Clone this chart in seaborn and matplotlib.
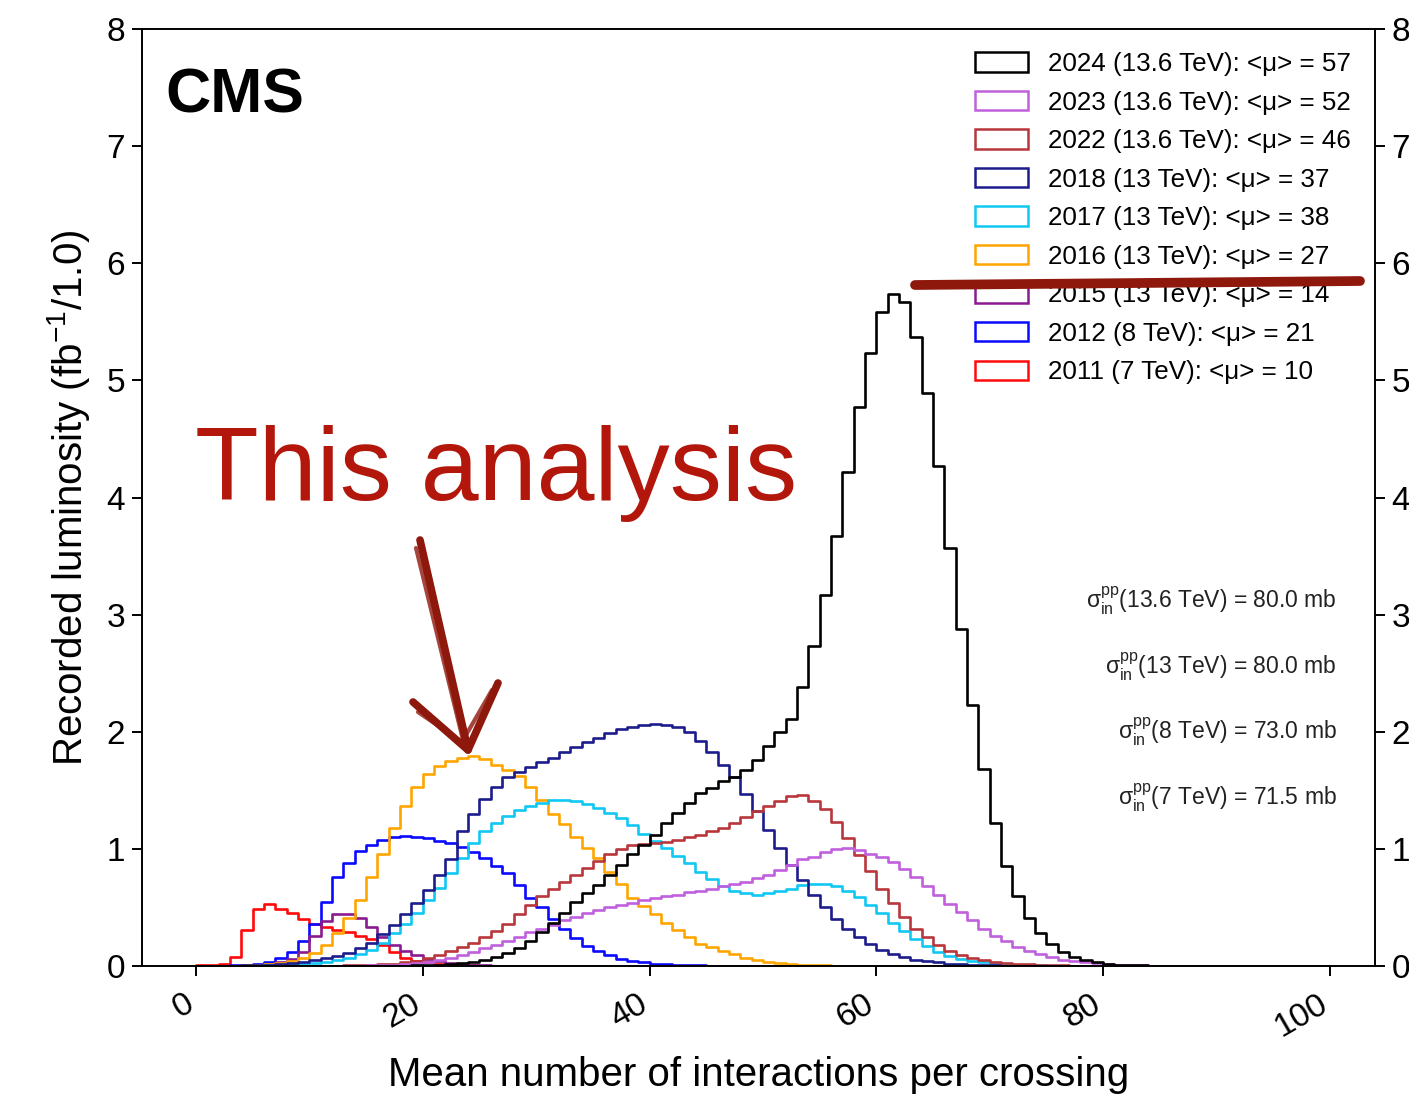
import numpy as np
import pandas as pd
import matplotlib
matplotlib.use("Agg")
import matplotlib.pyplot as plt
import matplotlib.transforms as mtransforms
from matplotlib.patches import Rectangle
from matplotlib.lines import Line2D
import seaborn as sns

# pileup histograms, bin width 1, values in fb^-1 per bin
edges = np.arange(0, 101)

labels = [
    "2024 (13.6 TeV): <μ> = 57",
    "2023 (13.6 TeV): <μ> = 52",
    "2022 (13.6 TeV): <μ> = 46",
    "2018 (13 TeV): <μ> = 37",
    "2017 (13 TeV): <μ> = 38",
    "2016 (13 TeV): <μ> = 27",
    "2015 (13 TeV): <μ> = 14",
    "2012 (8 TeV): <μ> = 21",
    "2011 (7 TeV): <μ> = 10",
]
colors = ["#000000", "#c060dc", "#b8363c", "#1c1c8c", "#10c8f2",
          "#ffa500", "#8a1a90", "#0a0aff", "#ff0a0a"]

# first bin index of each list below
start_bin = [18, 14, 12, 3, 5, 3, 4, 3, 0]

lumi_2024 = [0.003, 0.005, 0.008, 0.012, 0.018, 0.025, 0.035, 0.05, 0.08, 0.11,
             0.15, 0.21, 0.29, 0.37, 0.45, 0.55, 0.62, 0.69, 0.78, 0.86,
             0.96, 1.03, 1.12, 1.22, 1.31, 1.39, 1.48, 1.52, 1.58, 1.61,
             1.67, 1.76, 1.88, 2.0, 2.11, 2.38, 2.73, 3.17, 3.67, 4.22,
             4.77, 5.23, 5.58, 5.74, 5.67, 5.37, 4.89, 4.27, 3.57, 2.88,
             2.23, 1.68, 1.22, 0.85, 0.6, 0.41, 0.28, 0.19, 0.12, 0.08,
             0.05, 0.03, 0.02, 0.012, 0.008, 0.005]
lumi_2023 = [0.003, 0.005, 0.008, 0.012, 0.018, 0.025, 0.035, 0.05, 0.07, 0.09,
             0.12, 0.15, 0.18, 0.21, 0.25, 0.29, 0.32, 0.35, 0.39, 0.42,
             0.45, 0.48, 0.5, 0.52, 0.54, 0.56, 0.58, 0.6, 0.61, 0.63,
             0.64, 0.66, 0.68, 0.7, 0.72, 0.75, 0.78, 0.82, 0.86, 0.91,
             0.93, 0.97, 1.0, 1.01, 0.99, 0.96, 0.93, 0.89, 0.83, 0.76,
             0.68, 0.61, 0.53, 0.46, 0.39, 0.32, 0.26, 0.21, 0.165, 0.13,
             0.1, 0.075, 0.055, 0.04, 0.03, 0.022, 0.016, 0.012, 0.009, 0.006,
             0.004, 0.003]
lumi_2022 = [0.003, 0.005, 0.007, 0.01, 0.014, 0.02, 0.03, 0.045, 0.065, 0.095,
             0.13, 0.16, 0.2, 0.25, 0.3, 0.36, 0.44, 0.52, 0.6, 0.66,
             0.72, 0.78, 0.84, 0.9, 0.96, 1.0, 1.03, 1.04, 1.05, 1.06,
             1.08, 1.1, 1.12, 1.15, 1.18, 1.22, 1.27, 1.32, 1.37, 1.41,
             1.45, 1.46, 1.41, 1.34, 1.23, 1.09, 0.95, 0.81, 0.66, 0.54,
             0.42, 0.32, 0.25, 0.18, 0.13, 0.094, 0.066, 0.05, 0.037, 0.028,
             0.02, 0.015, 0.01, 0.007, 0.005, 0.003]
lumi_2018 = [0.003, 0.005, 0.008, 0.012, 0.018, 0.025, 0.035, 0.05, 0.065, 0.085,
             0.11, 0.15, 0.2, 0.27, 0.35, 0.44, 0.54, 0.65, 0.78, 0.91,
             1.15, 1.3, 1.43, 1.53, 1.61, 1.66, 1.7, 1.74, 1.78, 1.83,
             1.87, 1.91, 1.95, 1.99, 2.02, 2.04, 2.06, 2.07, 2.06, 2.04,
             2.0, 1.92, 1.83, 1.72, 1.61, 1.47, 1.32, 1.16, 1.01, 0.86,
             0.73, 0.61, 0.5, 0.4, 0.32, 0.25, 0.19, 0.14, 0.105, 0.075,
             0.055, 0.04, 0.03, 0.02, 0.015, 0.01, 0.007, 0.005, 0.003]
lumi_2017 = [0.003, 0.005, 0.008, 0.012, 0.018, 0.025, 0.035, 0.05, 0.07, 0.1,
             0.14, 0.2, 0.28, 0.36, 0.45, 0.56, 0.67, 0.79, 0.92, 1.05,
             1.15, 1.22, 1.28, 1.33, 1.37, 1.39, 1.42, 1.42, 1.41, 1.38,
             1.35, 1.31, 1.26, 1.2, 1.13, 1.07, 1.01, 0.94, 0.88, 0.8,
             0.74, 0.68, 0.64, 0.62, 0.61, 0.62, 0.64, 0.66, 0.69, 0.7,
             0.7, 0.68, 0.64, 0.59, 0.52, 0.45, 0.37, 0.3, 0.23, 0.17,
             0.12, 0.085, 0.06, 0.045, 0.035, 0.025, 0.018, 0.012, 0.008, 0.005,
             0.003]
lumi_2016 = [0.003, 0.006, 0.01, 0.015, 0.025, 0.04, 0.065, 0.11, 0.18, 0.28,
             0.41, 0.56, 0.76, 0.96, 1.18, 1.37, 1.53, 1.64, 1.71, 1.75,
             1.78, 1.79, 1.77, 1.72, 1.67, 1.62, 1.53, 1.42, 1.3, 1.21,
             1.1, 1.01, 0.92, 0.8, 0.7, 0.58, 0.51, 0.44, 0.37, 0.31,
             0.25, 0.19, 0.16, 0.13, 0.1, 0.07, 0.05, 0.035, 0.025, 0.018,
             0.012, 0.008, 0.005, 0.003]
lumi_2015 = [0.005, 0.01, 0.02, 0.035, 0.06, 0.12, 0.26, 0.38, 0.44, 0.44,
             0.41, 0.33, 0.25, 0.18, 0.13, 0.09, 0.06, 0.04, 0.025, 0.015,
             0.01, 0.006, 0.004]
lumi_2012 = [0.005, 0.01, 0.018, 0.036, 0.065, 0.12, 0.21, 0.36, 0.55, 0.76,
             0.88, 0.98, 1.03, 1.08, 1.1, 1.11, 1.1, 1.09, 1.07, 1.05,
             1.02, 0.97, 0.92, 0.85, 0.79, 0.69, 0.58, 0.5, 0.4, 0.32,
             0.24, 0.17, 0.13, 0.09, 0.06, 0.04, 0.03, 0.02, 0.015, 0.01,
             0.007, 0.005, 0.003]
lumi_2011 = [0.005, 0.008, 0.015, 0.08, 0.31, 0.49, 0.53, 0.49, 0.45, 0.4,
             0.36, 0.33, 0.31, 0.29, 0.26, 0.23, 0.18, 0.12, 0.07, 0.04,
             0.03, 0.02, 0.015, 0.01, 0.005]

sigma_texts = [
    r"$\sigma^{pp}_{in}$(13.6 TeV) = 80.0 mb",
    r"$\sigma^{pp}_{in}$(13 TeV) = 80.0 mb",
    r"$\sigma^{pp}_{in}$(8 TeV) = 73.0 mb",
    r"$\sigma^{pp}_{in}$(7 TeV) = 71.5 mb",
]

series = [lumi_2024, lumi_2023, lumi_2022, lumi_2018, lumi_2017,
          lumi_2016, lumi_2015, lumi_2012, lumi_2011]

frames = []
for lab, s0, vals in zip(labels, start_bin, series):
    h = np.zeros(len(edges) - 1)
    h[s0:s0 + len(vals)] = vals
    frames.append(pd.DataFrame({"mu": edges[:-1] + 0.5, "lumi": h, "label": lab}))
df = pd.concat(frames, ignore_index=True)

sns.set_theme(style="ticks")
plt.rcParams["font.family"] = ["Liberation Sans", "DejaVu Sans"]
plt.rcParams["mathtext.fontset"] = "custom"
plt.rcParams["mathtext.rm"] = "Liberation Sans"
plt.rcParams["mathtext.it"] = "Liberation Sans"
plt.rcParams["mathtext.bf"] = "Liberation Sans:bold"
plt.rcParams["mathtext.default"] = "regular"
plt.rcParams["text.color"] = "black"
plt.rcParams["axes.labelcolor"] = "black"

W, H = 1409, 1094
fig = plt.figure(figsize=(W / 100, H / 100), dpi=100)
ax = fig.add_axes([141.7 / W, 1 - 966 / H, (1375 - 141.7) / W, (966 - 29) / H])

sns.histplot(data=df, x="mu", weights="lumi", hue="label", hue_order=labels,
             palette=colors, binwidth=1, binrange=(0, 100), element="step",
             fill=False, linewidth=1.9, legend=False, ax=ax)

ax.set_xlim(-4.8, 104)
ax.set_ylim(0, 8)
ax.set_xticks(range(0, 101, 20))
ax.set_yticks(range(0, 9))
for sp in ax.spines.values():
    sp.set_visible(True)
    sp.set_linewidth(1.4)
    sp.set_color("black")
ax.tick_params(axis="both", direction="out", length=7, width=1.4,
               labelsize=24, colors="black")
ax.tick_params(axis="y", right=True, labelright=True, pad=5)
ax.tick_params(axis="x", pad=4)
shift = mtransforms.ScaledTranslation(-9 / 72, -5 / 72, fig.dpi_scale_trans)
for t in ax.get_xticklabels():
    t.set_rotation(30)
    t.set_ha("right")
    t.set_va("top")
    t.set_rotation_mode("anchor")
    t.set_transform(t.get_transform() + shift)

ax.set_xlabel("Mean number of interactions per crossing", fontsize=29)
ax.set_ylabel(r"Recorded luminosity (fb$^{-1}$/1.0)", fontsize=29)
ax.xaxis.set_label_coords(0.5, -0.096)
ax.yaxis.set_label_coords(-0.04, 0.5)

ax.text(0.019, 0.911, "CMS", transform=ax.transAxes, fontsize=45,
        fontweight="bold", va="baseline", ha="left", color="black")

for txt, yy in zip(sigma_texts, [601, 667, 732, 798]):
    ax.text(0.969, (966 - yy) / 937, txt, transform=ax.transAxes,
            fontsize=16.5, ha="right", va="center", color="#222222")

handles = [Rectangle((0, 0), 1, 1, facecolor="none", edgecolor=c, linewidth=1.8)
           for c in colors]
ax.legend(handles, labels, loc="upper left",
          bbox_to_anchor=(975 / W, 1 - 52 / H), bbox_transform=fig.transFigure,
          frameon=False, fontsize=18.7, handlelength=2.05, handleheight=0.77,
          handletextpad=0.75, labelspacing=0.56, borderpad=0, borderaxespad=0)

# hand-drawn annotation on top of the plot
red_note = "#b3170c"
ink = "#8e180c"
fig.text(195 / W, 1 - 500 / H, "This analysis", color=red_note, fontsize=75,
         ha="left", va="baseline")


def stroke(xs, ys, lw, alpha=1.0):
    fig.add_artist(Line2D([x / W for x in xs], [1 - y / H for y in ys],
                          transform=fig.transFigure, color=ink, lw=lw, alpha=alpha,
                          solid_capstyle="round", solid_joinstyle="round"))


stroke([420, 468], [540, 750], 5.5)
stroke([416, 464], [548, 744], 3, 0.8)
stroke([413, 468, 498], [702, 750, 683], 5.5)
stroke([418, 462, 492], [712, 742, 690], 3, 0.8)
stroke([915, 1140, 1360], [285, 283, 281], 7)

fig.savefig("out.png", dpi=100)
